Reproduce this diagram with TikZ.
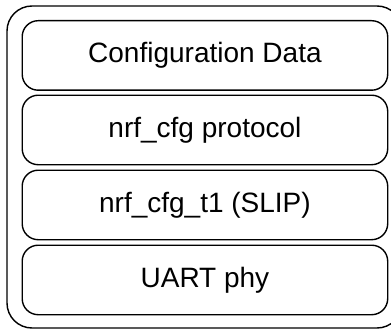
\documentclass[tikz,border=0pt]{standalone}
\usepackage{fontspec}
\setmainfont{Liberation Sans}
\begin{document}
\begin{tikzpicture}[x=1pt,y=-1pt,
  layer/.style={draw=black,line width=1.4pt,rounded corners=16pt,minimum width=365.5pt,minimum height=69.5pt,inner sep=0pt,font=\fontsize{28}{32}\selectfont,anchor=north west},
  outerbox/.style={draw=black,line width=1.4pt,rounded corners=25pt}]
\useasboundingbox (0,0) rectangle (391,329);
\draw[outerbox] (7,6) rectangle (402,328);
\node[layer] (cfg) at (21.5,20) {Configuration Data};
\node[layer] (proto) at (21.5,94.5) {nrf\_cfg protocol};
\node[layer] (t1) at (21.5,169.5) {nrf\_cfg\_t1 (SLIP)};
\node[layer] (uart) at (21.5,244.5) {UART phy};
\end{tikzpicture}
\end{document}
